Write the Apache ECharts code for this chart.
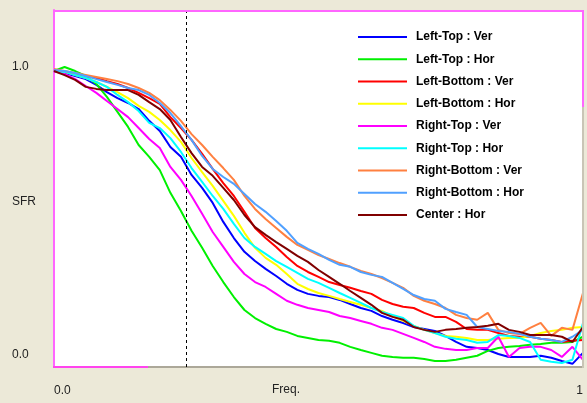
<!DOCTYPE html>
<html>
<head>
<meta charset="utf-8">
<script src="https://cdn.jsdelivr.net/npm/echarts@6/dist/echarts.min.js"></script>
<style>
html,body{margin:0;padding:0;background:#ECE9D8;}
#chart{width:587px;height:403px;}
</style>
</head>
<body>
<div id="chart"></div>
<script>
// Frequency samples (normalised 0..1)
var freq = [0.00,0.02,0.04,0.06,0.08,0.10,0.12,0.14,0.16,0.18,0.20,0.22,0.24,0.26,0.28,0.30,0.32,0.34,0.36,0.38,0.40,0.42,0.44,0.46,0.48,0.50,0.52,0.54,0.56,0.58,0.60,0.62,0.64,0.66,0.68,0.70,0.72,0.74,0.76,0.78,0.80,0.82,0.84,0.86,0.88,0.90,0.92,0.94,0.96,0.98,1.00];

var seriesNames = ['Left-Top : Ver','Left-Top : Hor','Left-Bottom : Ver','Left-Bottom : Hor','Right-Top : Ver','Right-Top : Hor','Right-Bottom : Ver','Right-Bottom : Hor','Center : Hor'];
var seriesColors = ['#0000FF','#00F000','#FF0000','#FFFF00','#FF00FF','#00FFFF','#FF8040','#50A0FF','#800000'];

var leftTopVer = [0.986,0.979,0.969,0.958,0.938,0.913,0.892,0.875,0.854,0.813,0.778,0.722,0.688,0.625,0.580,0.528,0.462,0.406,0.358,0.326,0.299,0.274,0.247,0.226,0.212,0.205,0.201,0.191,0.177,0.163,0.153,0.135,0.122,0.111,0.097,0.090,0.083,0.066,0.045,0.028,0.024,0.017,0.003,-0.007,-0.007,-0.007,-0.003,-0.010,-0.021,-0.031,0.007];
var leftTopHor = [0.986,1.000,0.986,0.969,0.941,0.896,0.844,0.792,0.729,0.688,0.642,0.563,0.500,0.431,0.372,0.309,0.253,0.201,0.156,0.128,0.108,0.090,0.080,0.066,0.059,0.052,0.049,0.042,0.028,0.017,0.007,-0.003,-0.007,-0.010,-0.010,-0.014,-0.021,-0.021,-0.017,-0.010,-0.003,0.014,0.024,0.028,0.031,0.035,0.038,0.042,0.042,0.045,0.063];
var leftBottomVer = [0.986,0.983,0.976,0.969,0.962,0.951,0.941,0.927,0.910,0.892,0.872,0.826,0.788,0.747,0.698,0.646,0.597,0.552,0.497,0.441,0.406,0.375,0.340,0.309,0.288,0.271,0.253,0.243,0.233,0.222,0.212,0.191,0.177,0.167,0.163,0.146,0.132,0.132,0.115,0.090,0.087,0.087,0.076,0.066,0.063,0.063,0.056,0.052,0.045,0.049,0.052];
var leftBottomHor = [0.986,0.983,0.972,0.962,0.948,0.931,0.913,0.892,0.865,0.844,0.816,0.781,0.740,0.684,0.635,0.587,0.535,0.483,0.424,0.372,0.337,0.313,0.281,0.247,0.229,0.215,0.205,0.194,0.184,0.174,0.163,0.153,0.135,0.118,0.101,0.087,0.076,0.066,0.063,0.059,0.052,0.052,0.056,0.059,0.059,0.066,0.076,0.083,0.087,0.094,0.097];
var rightTopVer = [0.986,0.976,0.958,0.934,0.910,0.882,0.854,0.826,0.788,0.750,0.719,0.653,0.608,0.552,0.490,0.427,0.375,0.323,0.281,0.253,0.236,0.212,0.188,0.174,0.163,0.156,0.149,0.135,0.128,0.118,0.108,0.094,0.087,0.073,0.059,0.045,0.028,0.021,0.017,0.017,0.024,0.024,0.063,-0.007,0.024,0.028,0.028,0.017,-0.007,0.028,-0.017];
var rightTopHor = [0.986,0.983,0.972,0.962,0.948,0.931,0.903,0.878,0.847,0.806,0.788,0.753,0.705,0.649,0.601,0.552,0.507,0.455,0.406,0.375,0.351,0.326,0.306,0.285,0.264,0.250,0.233,0.215,0.198,0.181,0.163,0.149,0.139,0.128,0.101,0.087,0.076,0.063,0.056,0.052,0.042,0.045,0.069,0.066,0.059,0.045,-0.017,-0.024,-0.028,-0.017,0.111];
var rightBottomVer = [0.993,0.986,0.979,0.972,0.965,0.958,0.951,0.941,0.927,0.910,0.885,0.851,0.813,0.767,0.729,0.688,0.649,0.608,0.552,0.507,0.472,0.441,0.410,0.382,0.365,0.347,0.333,0.319,0.306,0.292,0.281,0.267,0.250,0.233,0.205,0.188,0.177,0.163,0.139,0.128,0.122,0.146,0.087,0.076,0.073,0.094,0.111,0.066,0.094,0.087,0.215];
var rightBottomHor = [0.990,0.986,0.979,0.969,0.958,0.948,0.938,0.927,0.920,0.903,0.875,0.840,0.795,0.747,0.691,0.646,0.618,0.594,0.559,0.524,0.497,0.465,0.431,0.389,0.368,0.351,0.330,0.313,0.306,0.288,0.278,0.271,0.250,0.229,0.208,0.194,0.188,0.160,0.149,0.139,0.097,0.090,0.083,0.080,0.073,0.063,0.056,0.052,0.045,0.063,0.087];
var centerHor = [0.986,0.972,0.955,0.931,0.924,0.920,0.920,0.920,0.903,0.878,0.854,0.816,0.757,0.701,0.653,0.622,0.580,0.538,0.486,0.444,0.417,0.392,0.368,0.344,0.323,0.295,0.271,0.247,0.222,0.198,0.174,0.146,0.132,0.122,0.097,0.087,0.080,0.087,0.090,0.094,0.097,0.101,0.108,0.087,0.080,0.069,0.069,0.069,0.063,0.045,0.097];

var allValues = [leftTopVer,leftTopHor,leftBottomVer,leftBottomHor,rightTopVer,rightTopHor,rightBottomVer,rightBottomHor,centerHor];

var xTickValues = [0, 1];
var xTickLabels = ['0.0', '1'];
var yTickValues = [0, 1];
var yTickLabels = ['0.0', '1.0'];
var xAxisTitle = 'Freq.';
var yAxisTitle = 'SFR';
var markerFreq = 0.25;

var chart = echarts.init(document.getElementById('chart'), null, {renderer:'canvas'});

var series = allValues.map(function (vals, i) {
  var s = {
    name: seriesNames[i],
    type: 'line',
    data: freq.map(function (f, j) { return [f, vals[j]]; }),
    showSymbol: false,
    symbol: 'none',
    lineStyle: {color: seriesColors[i], width: 2},
    itemStyle: {color: seriesColors[i]},
    animation: false,
    silent: true
  };
  if (i === 0) {
    s.markLine = {
      silent: true, symbol: 'none', animation: false,
      label: {show: false},
      lineStyle: {color: '#000', type: [3, 3], width: 1},
      data: [{xAxis: markerFreq}]
    };
  }
  return s;
});

var font = '"Liberation Sans", Arial, sans-serif';

chart.setOption({
  backgroundColor: '#ECE9D8',
  animation: false,
  grid: {left: 54, right: 4, top: 10, bottom: 36, show: true, backgroundColor: '#FFFFFF', borderWidth: 0, outerBoundsMode: 'none', containLabel: false},
  legend: {
    orient: 'vertical', left: 353, top: 25,
    itemWidth: 49, itemHeight: 2, icon: 'rect', itemGap: 8.25,
    selectedMode: false,
    textStyle: {fontFamily: font, fontWeight: 'bold', fontSize: 12, color: '#000', lineHeight: 14, padding: [0,0,0,4]},
    data: seriesNames
  },
  xAxis: {
    type: 'value', min: 0, max: 1,
    axisLine: {show: true, onZero: false, lineStyle: {color: '#ACA899', width: 2}},
    axisTick: {show: false},
    splitLine: {show: false},
    axisLabel: {
      customValues: xTickValues, margin: 18, verticalAlign: 'top',
      fontFamily: font, fontSize: 12, color: '#222',
      alignMinLabel: 'left', alignMaxLabel: 'right',
      formatter: function (v) { var k = xTickValues.indexOf(v); return k >= 0 ? xTickLabels[k] : ''; }
    }
  },
  yAxis: {
    type: 'value', min: -0.042, max: 1.198,
    axisLine: {show: true, onZero: false, lineStyle: {color: '#FF66FF', width: 2}},
    axisTick: {show: false},
    splitLine: {show: false},
    axisLabel: {
      customValues: yTickValues, margin: 42, align: 'left',
      fontFamily: font, fontSize: 12, color: '#222',
      formatter: function (v) { var k = yTickValues.indexOf(v); return k >= 0 ? yTickLabels[k] : ''; }
    }
  },
  graphic: [
    {type: 'line', shape: {x1: 53, y1: 11, x2: 584, y2: 11}, style: {stroke: '#FF66FF', lineWidth: 2}, silent: true, z: 100},
    {type: 'line', shape: {x1: 583, y1: 10, x2: 583, y2: 107}, style: {stroke: '#FF66FF', lineWidth: 2}, silent: true, z: 100},
    {type: 'line', shape: {x1: 583, y1: 107, x2: 583, y2: 368}, style: {stroke: '#C9C5B6', lineWidth: 2}, silent: true, z: 100},
    {type: 'line', shape: {x1: 53, y1: 367, x2: 148, y2: 367}, style: {stroke: '#FF44EE', lineWidth: 2}, silent: true, z: 100},
    {type: 'text', left: 12, top: 196, silent: true, style: {text: yAxisTitle, fill: '#222', font: '12px ' + font}},
    {type: 'text', left: 272, top: 384, silent: true, style: {text: xAxisTitle, fill: '#222', font: '12px ' + font}}
  ],
  series: series
});
</script>
</body>
</html>
